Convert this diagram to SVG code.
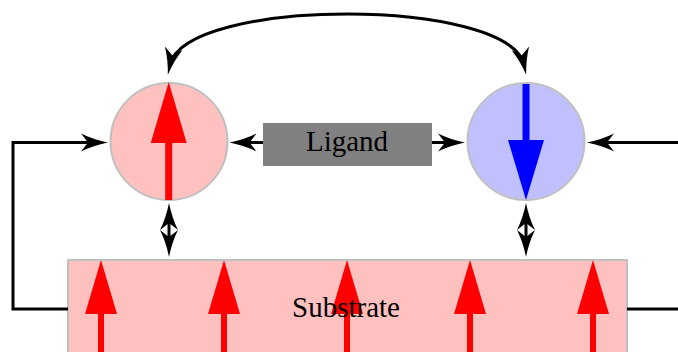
<svg xmlns="http://www.w3.org/2000/svg" width="678" height="352" viewBox="0 0 678 352">
  <style>
    .lbl { font-family: "Liberation Serif", "Times New Roman", serif; font-size: 29px; fill: #000; text-anchor: middle; }
    .conn { fill: none; stroke: #000; stroke-width: 3; }
    .node-edge { stroke: #c0c0c0; stroke-width: 2; }
    .red { fill: #ff0000; }
    .blue { fill: #0000ff; }
  </style>
  <defs>
    <marker id="st" markerUnits="userSpaceOnUse" markerWidth="30" markerHeight="20" viewBox="0 -10 30 20" refX="17" refY="0" orient="auto-start-reverse">
      <path d="M27,0 Q12,-3 0,-9 L7,0 L0,9 Q12,3 27,0 Z" fill="#000"/>
    </marker>
  </defs>
  <rect width="678" height="352" fill="#fff"/>

  <g id="substrate">
    <rect x="68" y="260" width="559" height="110" fill="#ffc0c0" class="node-edge"/>
    <g class="red">
      <path d="M101,260 L117,314 L104,314 L104,352 L98,352 L98,314 L85,314 Z"/>
      <path d="M224,260 L240,314 L227,314 L227,352 L221,352 L221,314 L208,314 Z"/>
      <path d="M347,260 L363,314 L350,314 L350,352 L344,352 L344,314 L331,314 Z"/>
      <path d="M470,260 L486,314 L473,314 L473,352 L467,352 L467,314 L454,314 Z"/>
      <path d="M593,260 L609,314 L596,314 L596,352 L590,352 L590,314 L577,314 Z"/>
    </g>
    <text class="lbl" x="346" y="317">Substrate</text>
  </g>

  <g id="spin-left">
    <circle cx="169" cy="141.5" r="58.5" fill="#ffc0c0" class="node-edge"/>
    <path class="red" d="M168.7,82 L186.7,143 L172.2,143 L172.2,200 L165.2,200 L165.2,143 L150.7,143 Z"/>
  </g>

  <g id="spin-right">
    <circle cx="526" cy="141.5" r="58.5" fill="#c0c0ff" class="node-edge"/>
    <path class="blue" d="M526,200 L544,140 L529.5,140 L529.5,84 L522.5,84 L522.5,140 L508,140 Z"/>
  </g>

  <g id="ligand">
    <rect x="263" y="123" width="169" height="43" fill="#808080"/>
    <text class="lbl" x="347" y="151">Ligand</text>
  </g>

  <g id="connectors">
    <path class="conn" d="M170,65 C185,-3 509,-3 524,65" marker-start="url(#st)" marker-end="url(#st)"/>
    <path class="conn" d="M263,142.5 L239.5,142.5" marker-end="url(#st)"/>
    <path class="conn" d="M432,142.5 L455,142.5" marker-end="url(#st)"/>
    <path class="conn" d="M678,142.5 L597,142.5" marker-end="url(#st)"/>
    <path class="conn" d="M68,309 L13,309 L13,142.5 L98,142.5" marker-end="url(#st)"/>
    <path class="conn" d="M627,309 L678,309"/>
    <path class="conn" d="M169,213 L169,247" marker-start="url(#st)" marker-end="url(#st)"/>
    <path class="conn" d="M526,213 L526,247" marker-start="url(#st)" marker-end="url(#st)"/>
  </g>
</svg>
